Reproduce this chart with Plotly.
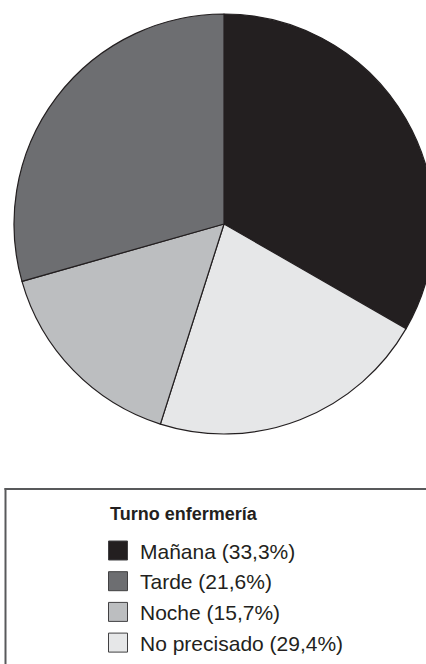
import plotly.graph_objects as go

# Nursing shift distribution (percent)
labels = ["Mañana", "Tarde", "Noche", "No precisado"]
values = [33.3, 21.6, 15.7, 29.4]
slice_colors = ["#231f20", "#e6e7e8", "#bcbec0", "#6d6e71"]
legend_colors = ["#231f20", "#6d6e71", "#bcbec0", "#e6e7e8"]
legend_title = "Turno enfermería"

# the figure is a little wider than the page so the pie runs off the right edge
W, H = 460, 664


def px(x):
    return x / W


def py(y):
    return 1 - y / H


fig = go.Figure()
fig.add_trace(go.Pie(
    labels=labels,
    values=values,
    sort=False,
    direction="clockwise",
    rotation=0,
    textinfo="none",
    hoverinfo="label+percent",
    showlegend=False,
    marker=dict(colors=slice_colors, line=dict(color="#231f20", width=1.2)),
    domain=dict(x=[px(14), px(434)], y=[py(434), py(14)]),
))

frame = dict(color="#58595b", width=2)
shapes = [
    # legend frame: left and top edges (the box runs off the page)
    dict(type="line", xref="paper", yref="paper",
         x0=px(5.5), x1=px(5.5), y0=0, y1=py(488), line=frame),
    dict(type="line", xref="paper", yref="paper",
         x0=px(4.5), x1=1, y0=py(489), y1=py(489), line=frame),
]
annotations = [
    dict(text="<b>" + legend_title + "</b>", xref="paper", yref="paper",
         x=px(108), y=py(514), xanchor="left", yanchor="middle", showarrow=False,
         font=dict(family="Liberation Sans, Arial", size=18, color="#231f20")),
]

row0, step, sq = 550.5, 30.7, 19
for i, (lab, val, col) in enumerate(zip(labels, values, legend_colors)):
    yc = row0 + i * step
    shapes.append(dict(type="rect", xref="paper", yref="paper",
                       x0=px(108.5), x1=px(108.5 + sq), y0=py(yc + sq / 2), y1=py(yc - sq / 2),
                       line=dict(color="#414042", width=1), fillcolor=col))
    annotations.append(dict(
        text=f"{lab} ({val:.1f}%)".replace(".", ","),
        xref="paper", yref="paper", x=px(138), y=py(yc + 0.5),
        xanchor="left", yanchor="middle", showarrow=False,
        font=dict(family="Liberation Sans, Arial", size=21, color="#231f20")))

fig.update_layout(
    width=W, height=H,
    margin=dict(l=0, r=0, t=0, b=0),
    paper_bgcolor="white",
    plot_bgcolor="white",
    shapes=shapes,
    annotations=annotations,
)

fig.write_html("out.html", post_script="document.body.style.overflow='hidden';")
